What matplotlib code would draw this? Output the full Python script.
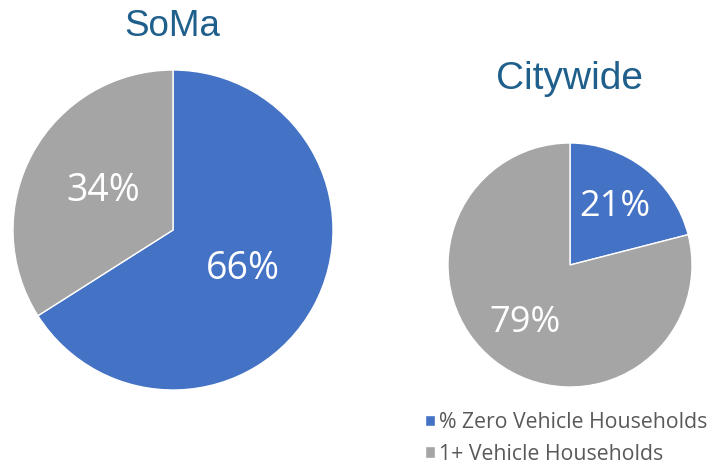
import matplotlib.pyplot as plt

W, H = 713, 466

labels = ["% Zero Vehicle Households", "1+ Vehicle Households"]
soma_values = [66, 34]
city_values = [21, 79]
colors = ["#4472C4", "#A5A5A5"]
title_color = "#1F5F8B"


def pie_axes(fig, cx, cy, r):
    # position in pixels -> figure fraction
    return fig.add_axes([(cx - r) / W, (H - cy - r) / H, 2 * r / W, 2 * r / H])


def draw_pie(ax, values, pctdist, fs):
    wedges, _, autotexts = ax.pie(
        values, colors=colors, startangle=90, counterclock=False,
        autopct="%d%%", pctdistance=pctdist,
        wedgeprops=dict(edgecolor="white", linewidth=1),
        textprops=dict(color="white", fontsize=fs, family="Open Sans"),
    )
    ax.set_xlim(-1.0, 1.0)
    ax.set_ylim(-1.0, 1.0)
    ax.set_aspect("equal")
    ax.axis("off")
    return wedges


fig = plt.figure(figsize=(W / 100, H / 100), dpi=100)

ax1 = pie_axes(fig, 173, 230, 160)
wedges = draw_pie(ax1, soma_values, 0.5, 27)

ax2 = pie_axes(fig, 570, 265, 122)
draw_pie(ax2, city_values, 0.6, 26)

fig.text(172 / W, 1 - 27 / H, "SoMa", color=title_color, fontsize=26.5,
         family="Liberation Sans", ha="center", va="center")
fig.text(569 / W, 1 - 79 / H, "Citywide", color=title_color, fontsize=28,
         family="Liberation Sans", ha="center", va="center")

fig.legend(wedges, labels, loc="upper left", bbox_to_anchor=(425 / W, 1 - 412 / H),
           frameon=False, labelcolor="#595959",
           prop=dict(family="Open Sans", size=15.3),
           handlelength=0.45, handleheight=0.45, handletextpad=0.2,
           labelspacing=0.5, borderpad=0, borderaxespad=0)

fig.savefig("out.png", dpi=100)
